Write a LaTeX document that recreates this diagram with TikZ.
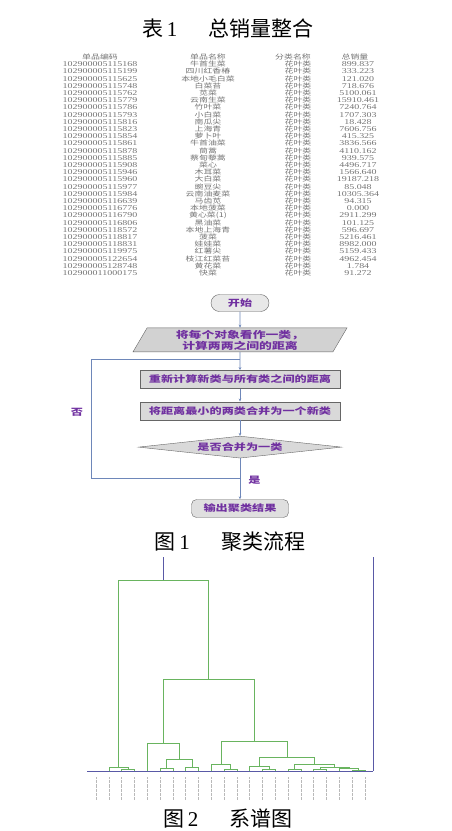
\documentclass[tikz,border=0pt]{standalone}
\usepackage{fontspec}
\setmainfont{Liberation Serif}
\newfontfamily\cjk{Noto Sans CJK SC}
\newfontfamily\cjkw[FakeStretch=1.35]{Noto Sans CJK SC}
\newfontfamily\numw[FakeStretch=1.35]{Liberation Serif}
\usetikzlibrary{shapes.geometric, shapes.misc, arrows.meta, positioning}

\definecolor{flowline}{RGB}{110,135,185}
\definecolor{flowtext}{RGB}{112,48,160}
\definecolor{treegreen}{RGB}{105,180,95}
\definecolor{tabtext}{RGB}{115,115,115}

% one U-shaped link of the dendrogram: x1, y1, x2, y2, height
\newcommand\merge[5]{\draw[tree] (#1,#2) |- (#3,#5) -- (#3,#4);}

\begin{document}
\begin{tikzpicture}[x=1pt, y=-1pt,
  cell/.style={text=tabtext, inner sep=0pt, font=\fontsize{6.6}{7}\cjkw},
  num/.style={text=tabtext, inner sep=0pt, font=\fontsize{7.4}{8}\numw},
  caption/.style={inner sep=0pt, font=\fontsize{21}{23}\cjk},
  startstop/.style={rounded rectangle, draw=gray!80!black, fill=gray!18, minimum width=58, minimum height=17, inner sep=0pt, text=flowtext, font=\fontsize{9}{10}\cjkw\bfseries},
  io/.style={trapezium, trapezium left angle=55, trapezium right angle=125, trapezium stretches body, draw=gray!80!black, fill=gray!35, minimum width=214, minimum height=24, inner sep=0pt, align=center, text=flowtext, font=\fontsize{9.5}{11}\cjkw\bfseries},
  box/.style={rectangle, draw=gray!80!black, fill=gray!30, minimum width=200, minimum height=18, inner sep=0pt, text=flowtext, font=\fontsize{9}{10}\cjkw\bfseries},
  decision/.style={diamond, aspect=9.5, draw=gray!80!black, fill=gray!30, minimum width=203, minimum height=22, inner sep=0pt, text=flowtext, font=\fontsize{9}{10}\cjkw\bfseries},
  endbox/.style={rectangle, rounded corners=5, draw=gray!80!black, fill=gray!25, minimum width=97, minimum height=18, inner sep=0pt, text=flowtext, font=\fontsize{9}{10}\cjkw\bfseries},
  lbl/.style={text=flowtext, inner sep=0pt, font=\fontsize{9}{10}\cjkw\bfseries},
  line/.style={draw=flowline, line width=0.6pt},
  arrow/.style={line, -{Stealth[length=3pt, width=2.6pt]}},
  tree/.style={draw=treegreen, line width=0.6pt},
  axis/.style={draw=gray!70!blue, line width=0.7pt},
  leaflabel/.style={draw=gray!55, line width=0.6pt, dash pattern=on 0.8pt off 0.5pt}
]
\useasboundingbox (0,0) rectangle (451,831);

% Table
\node (tabtitle) [caption] at (228,28) {表\,{\rmfamily 1}\hspace{1.5em}总销量整合};
\node (h1) [cell] at (100,57) {单品编码};
\node (h2) [cell] at (208,57) {单品名称};
\node (h3) [cell] at (293,57) {分类名称};
\node (h4) [cell] at (355,57) {总销量};
\foreach \code/\name/\total [count=\i] in {
  102900005115168/牛首生菜/899.837, 102900005115199/四川红香椿/333.223,
  102900005115625/本地小毛白菜/121.020, 102900005115748/白菜苔/718.676,
  102900005115762/苋菜/5100.061, 102900005115779/云南生菜/15910.461,
  102900005115786/竹叶菜/7240.764, 102900005115793/小白菜/1707.303,
  102900005115816/南瓜尖/18.428, 102900005115823/上海青/7606.756,
  102900005115854/萝卜叶/415.325, 102900005115861/牛首油菜/3836.566,
  102900005115878/茼蒿/4110.162, 102900005115885/蔡甸藜蒿/939.575,
  102900005115908/菜心/4496.717, 102900005115946/木耳菜/1566.640,
  102900005115960/大白菜/19187.218, 102900005115977/豌豆尖/85.048,
  102900005115984/云南油麦菜/10305.364, 102900005116639/马齿苋/94.315,
  102900005116776/本地菠菜/0.000, 102900005116790/黄心菜(1)/2911.299,
  102900005116806/黑油菜/101.125, 102900005118572/本地上海青/596.697,
  102900005118817/菠菜/5216.461, 102900005118831/娃娃菜/8982.000,
  102900005119975/红薯尖/5159.433, 102900005122654/枝江红菜苔/4962.454,
  102900005128748/黄花菜/1.784, 102900011000175/快菜/91.272} {
  \node (code\i) [num] at (100,57+7.2*\i) {\code};
  \node (name\i) [cell] at (208,57+7.2*\i) {\name};
  \node (kind\i) [cell] at (298,57+7.2*\i) {花叶类};
  \node (total\i) [num] at (358,57+7.2*\i) {\total};
}

% Flow chart
\node (start) [startstop] at (240,303) {开始};
\node (init) [io, below=16pt of start] {将每个对象看作一类，\\计算两两之间的距离};
\node (recalc) [box, below=18pt of init] {重新计算新类与所有类之间的距离};
\node (join) [box, below=13pt of recalc] {将距离最小的两类合并为一个新类};
\node (check) [decision, below=16pt of join] {是否合并为一类};
\node (result) [endbox, below=41pt of check] {输出聚类结果};
\node (no) [lbl] at (77,412) {否};
\coordinate (jtop) at (240,359);
\coordinate (jbot) at (240,478);
\coordinate (back) at (91,478);

\draw [arrow] (start) -- (init);
\draw [arrow] (init) -- (recalc);
\draw [arrow] (recalc) -- (join);
\draw [arrow] (join) -- (check);
\draw [arrow] (check) -- (result) node[pos=0.54, right=8pt, lbl] {是};
\draw [line] (jbot) -- (back) |- (jtop);
\node (cap1) [caption] at (230,542) {图\,{\rmfamily 1}\hspace{1.5em}聚类流程};

% Dendrogram
\draw [axis] (87,771) -- (373,771);
\draw [axis] (373,557) -- (373,771);
\draw [axis] (163.45,557) -- (163.45,580);
\foreach \k in {0,...,21}
  \draw [leaflabel] (96+12.8*\k,777) -- ++(0,23);
\merge{121.6}{771}{134.4}{771}{769}
\merge{108.8}{771}{128}{769}{767.5}
\merge{160}{771}{172.8}{771}{768}
\merge{185.6}{771}{198.4}{771}{767}
\merge{166.4}{768}{192}{767}{759}
\merge{147.2}{771}{179.2}{759}{743}
\merge{224}{771}{236.8}{771}{769}
\merge{211.2}{771}{230.4}{769}{764}
\merge{262.4}{771}{275.2}{771}{769.5}
\merge{249.6}{771}{268.8}{769.5}{766}
\merge{288}{771}{300.8}{771}{769}
\merge{313.6}{771}{326.4}{771}{769.5}
\merge{352}{771}{364.8}{771}{770}
\merge{339.2}{771}{358.4}{770}{768.5}
\merge{320}{769.5}{348.8}{768.5}{767}
\merge{294.4}{769}{334.4}{767}{764}
\merge{259.2}{766}{314.4}{764}{757}
\merge{220.8}{764}{286.8}{757}{741}
\merge{163.2}{743}{253.8}{741}{679}
\merge{118.4}{767.5}{208.5}{679}{580}
\node (cap2) [caption] at (228,818) {图\,{\rmfamily 2}\hspace{1.5em}系谱图};

\end{tikzpicture}
\end{document}
